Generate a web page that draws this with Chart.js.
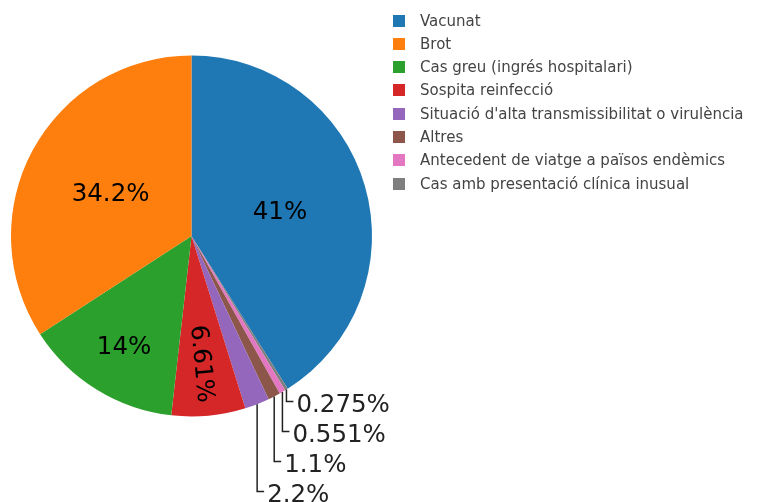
<!DOCTYPE html>
<html>
<head>
<meta charset="utf-8">
<script src="https://cdn.jsdelivr.net/npm/chart.js@4/dist/chart.umd.min.js"></script>
<style>
  html, body { margin: 0; padding: 0; background: #fff; }
  #wrap { position: relative; width: 760px; height: 502px; overflow: hidden; }
  #legend { position: absolute; left: 0; top: 0; font-family: "DejaVu Sans", sans-serif; font-size: 15px; color: #444; }
  .item { position: absolute; white-space: nowrap; }
  .sw { position: absolute; width: 12px; height: 12px; }
</style>
</head>
<body>
<div id="wrap">
  <canvas id="chart"></canvas>
  <div id="legend"></div>
</div>
<script>
// categories as they appear in the legend
const categories = [
  'Vacunat',
  'Brot',
  'Cas greu (ingrés hospitalari)',
  'Sospita reinfecció',
  "Situació d'alta transmissibilitat o virulència",
  'Altres',
  'Antecedent de viatge a països endèmics',
  'Cas amb presentació clínica inusual',
];
const counts = [149, 124, 51, 24, 8, 4, 2, 1];
const colors = ['#1f77b4', '#ff7f0e', '#2ca02c', '#d62728', '#9467bd', '#8c564b', '#e377c2', '#7f7f7f'];

// slices go clockwise from 12 o'clock: first one, then the rest in reverse
const drawOrder = [0, 7, 6, 5, 4, 3, 2, 1];

const total = counts.reduce((a, b) => a + b, 0);
const fmtPct = (v) => Number((v / total * 100).toPrecision(3)).toString() + '%';

// legend
const legend = document.getElementById('legend');
categories.forEach((name, i) => {
  const cy = 20.5 + i * 23.3;
  const sw = document.createElement('div');
  sw.className = 'sw';
  sw.style.left = '393px';
  sw.style.top = (cy - 6) + 'px';
  sw.style.background = colors[i];
  legend.appendChild(sw);
  const t = document.createElement('div');
  t.className = 'item';
  t.style.left = '420px';
  t.style.top = (cy - 9) + 'px';
  t.style.lineHeight = '18px';
  t.textContent = name;
  legend.appendChild(t);
});

const FONT = '"DejaVu Sans", sans-serif';
const SIZE = 24.5;

const pieLabels = {
  id: 'pieLabels',
  afterDatasetsDraw(chart) {
    const ctx = chart.ctx;
    const meta = chart.getDatasetMeta(0);
    const values = chart.data.datasets[0].data;
    ctx.save();
    ctx.font = SIZE + 'px ' + FONT;
    ctx.textBaseline = 'alphabetic';
    const half = SIZE * 0.365;
    let prevY = -Infinity;
    meta.data.forEach((arc, i) => {
      const { x, y, startAngle, endAngle, outerRadius } = arc.getProps(['x', 'y', 'startAngle', 'endAngle', 'outerRadius'], true);
      const mid = (startAngle + endAngle) / 2;
      const sweep = endAngle - startAngle;
      const text = fmtPct(values[i]);
      const share = values[i] / total;
      if (share >= 0.05) {
        // big slices hold text near half radius, narrower ones push it outward
        const f = share < 0.2 ? 0.71 : 0.51;
        const px = x + Math.cos(mid) * outerRadius * f;
        const py = y + Math.sin(mid) * outerRadius * f;
        ctx.fillStyle = '#000';
        ctx.textAlign = 'center';
        ctx.save();
        ctx.translate(px, py);
        if (sweep < Math.PI / 6) ctx.rotate(mid); // radial text
        ctx.fillText(text, 0, half);
        ctx.restore();
      } else {
        const ox = x + Math.cos(mid) * outerRadius;
        const oy = y + Math.sin(mid) * outerRadius;
        const ty = Math.max(oy + 14, prevY + 30);
        prevY = ty;
        ctx.strokeStyle = '#222';
        ctx.lineWidth = 1.5;
        ctx.beginPath();
        ctx.moveTo(ox, oy);
        ctx.lineTo(ox, ty - 2);
        ctx.lineTo(ox + 7, ty - 2);
        ctx.stroke();
        ctx.fillStyle = '#222';
        ctx.textAlign = 'left';
        ctx.fillText(text, ox + 10, ty + half);
      }
    });
    ctx.restore();
  },
};

new Chart(document.getElementById('chart').getContext('2d'), {
  type: 'pie',
  data: {
    labels: drawOrder.map((i) => categories[i]),
    datasets: [
      {
        data: drawOrder.map((i) => counts[i]),
        backgroundColor: drawOrder.map((i) => colors[i]),
        borderWidth: 0,
      },
    ],
  },
  options: {
    responsive: true,
    maintainAspectRatio: false,
    animation: false,
    layout: { padding: { left: 11, top: 55.5, right: 388, bottom: 85.5 } },
    plugins: {
      legend: { display: false },
      tooltip: { enabled: false },
    },
  },
  plugins: [pieLabels],
});
</script>
</body>
</html>
